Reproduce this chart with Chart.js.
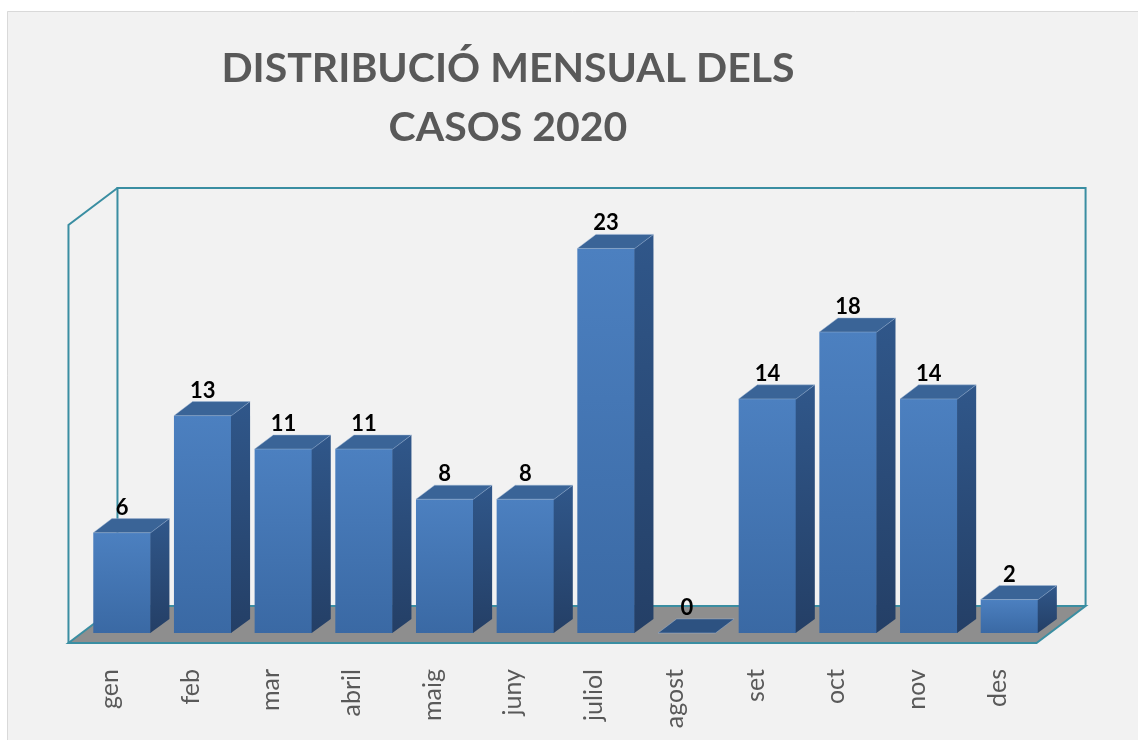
<!DOCTYPE html>
<html>
<head>
<meta charset="utf-8">
<script src="https://cdn.jsdelivr.net/npm/chart.js@4/dist/chart.umd.min.js"></script>
<style>
  html, body { margin: 0; padding: 0; background: #ffffff; }
  #wrap { width: 1138px; height: 740px; position: relative; }
  canvas { display: block; }
</style>
</head>
<body>
<div id="wrap"><canvas id="chart" width="1138" height="740"></canvas></div>
<script>
// ---- data ----
const titleLines = ['DISTRIBUCIÓ MENSUAL DELS', 'CASOS 2020'];
const months = ['gen', 'feb', 'mar', 'abril', 'maig', 'juny', 'juliol', 'agost', 'set', 'oct', 'nov', 'des'];
const cases = [6, 13, 11, 11, 8, 8, 23, 0, 14, 18, 14, 2];
const yMin = 0;
const yMax = 25;

// ---- styling / pseudo-3D geometry ----
const DEPTH = { dx: 49, dy: -37 };   // full floor depth vector
const FRONT_GAP = 0.27;              // bars' front plane sits this far back
const BAR_DEPTH = 0.38;              // bar depth as fraction of floor depth
const TEAL = '#3a8ea2';
const FLOOR = '#8e8e8e';
const TEXT_GREY = '#595959';

const pseudo3d = {
  id: 'pseudo3d',
  beforeDraw(chart) {
    const c = chart.ctx;
    c.save();
    c.fillStyle = '#ffffff';
    c.fillRect(0, 0, chart.width, chart.height);
    c.fillStyle = '#f2f2f2';
    c.fillRect(7, 11, chart.width, chart.height);
    c.strokeStyle = '#d9d9d9';
    c.lineWidth = 1;
    c.beginPath();
    c.moveTo(7.5, chart.height);
    c.lineTo(7.5, 11.5);
    c.lineTo(chart.width, 11.5);
    c.stroke();
    c.restore();
  },
  afterLayout(chart) {
    // place the title's box so that it is centred like the original
    if (chart.titleBlock) {
      chart.titleBlock.left = 0;
      chart.titleBlock.right = 1016;
    }
  },
  beforeDatasetsDraw(chart) {
    const c = chart.ctx;
    const a = chart.chartArea;
    const fx = -FRONT_GAP * DEPTH.dx, fy = -FRONT_GAP * DEPTH.dy;
    const bx = (1 - FRONT_GAP) * DEPTH.dx, by = (1 - FRONT_GAP) * DEPTH.dy;
    const L = a.left, R = a.right, T = a.top, B = a.bottom;
    c.save();
    c.lineWidth = 2;
    c.strokeStyle = TEAL;
    c.lineJoin = 'miter';
    // floor
    c.beginPath();
    c.moveTo(L + fx, B + fy);
    c.lineTo(R + fx, B + fy);
    c.lineTo(R + bx, B + by);
    c.lineTo(L + bx, B + by);
    c.closePath();
    c.fillStyle = FLOOR;
    c.fill();
    c.stroke();
    // back wall
    c.beginPath();
    c.moveTo(L + bx, B + by);
    c.lineTo(L + bx, T + by);
    c.lineTo(R + bx, T + by);
    c.lineTo(R + bx, B + by);
    c.stroke();
    // side wall
    c.beginPath();
    c.moveTo(L + fx, B + fy);
    c.lineTo(L + fx, T + fy);
    c.lineTo(L + bx, T + by);
    c.stroke();
    c.restore();
  },
  afterDatasetsDraw(chart) {
    const c = chart.ctx;
    const meta = chart.getDatasetMeta(0);
    const ox = BAR_DEPTH * DEPTH.dx, oy = BAR_DEPTH * DEPTH.dy;
    c.save();
    meta.data.forEach((el, i) => {
      const { x, y, base, width } = el.getProps(['x', 'y', 'base', 'width'], true);
      const l = x - width / 2, r = x + width / 2;
      // side face
      const sg = c.createLinearGradient(0, y + oy, 0, base);
      sg.addColorStop(0, '#30578a');
      sg.addColorStop(1, '#243f66');
      c.beginPath();
      c.moveTo(r - 0.5, y);
      c.lineTo(r + ox, y + oy);
      c.lineTo(r + ox, base + oy);
      c.lineTo(r - 0.5, base);
      c.closePath();
      c.fillStyle = sg;
      c.fill();
      // top face
      c.beginPath();
      c.moveTo(l, y);
      c.lineTo(r, y);
      c.lineTo(r + ox, y + oy);
      c.lineTo(l + ox, y + oy);
      c.closePath();
      c.fillStyle = base - y < 1 ? '#2d5281' : '#3a6497';
      c.fill();
      c.strokeStyle = 'rgba(160,185,215,0.45)';
      c.lineWidth = 1;
      c.stroke();
      // value label
      c.fillStyle = '#000000';
      c.font = 'bold 22px Lato, "Open Sans", sans-serif';
      c.textAlign = 'center';
      c.textBaseline = 'alphabetic';
      c.fillText(String(cases[i]), x, y + oy - 4);
    });
    c.restore();
  }
};

function frontGradient(ctx) {
  const chart = ctx.chart;
  if (!chart.chartArea) return '#4677b6';
  const a = chart.chartArea;
  const v = ctx.raw == null ? 0 : ctx.raw;
  const top = chart.scales.y.getPixelForValue(v);
  const g = chart.ctx.createLinearGradient(0, top, 0, a.bottom + 0.01);
  g.addColorStop(0, '#4c80c0');
  g.addColorStop(1, '#3a69a4');
  return g;
}

new Chart(document.getElementById('chart'), {
  type: 'bar',
  data: {
    labels: months,
    datasets: [{
      label: 'Casos',
      data: cases,
      backgroundColor: frontGradient,
      borderWidth: 0,
      categoryPercentage: 1.0,
      barPercentage: 0.713
    }]
  },
  options: {
    responsive: false,
    devicePixelRatio: 1,
    animation: false,
    layout: { padding: { left: 81.7, right: 88.2, top: 0, bottom: 0 } },
    plugins: {
      legend: { display: false },
      tooltip: { enabled: false },
      title: {
        display: true,
        text: titleLines,
        color: TEXT_GREY,
        align: 'center',
        font: { family: 'Lato, "Open Sans", sans-serif', size: 41, weight: 'bold', lineHeight: '59px' },
        padding: { top: 39.5, bottom: 57.5 }
      }
    },
    scales: {
      x: {
        grid: { display: false, drawTicks: false },
        border: { display: false },
        ticks: {
          color: TEXT_GREY,
          font: { family: 'Lato, "Open Sans", sans-serif', size: 25 },
          minRotation: 90,
          maxRotation: 90,
          autoSkip: false,
          labelOffset: -12,
          padding: 36
        },
        afterFit(scale) { scale.height = 107; }
      },
      y: {
        display: false,
        min: yMin,
        max: yMax
      }
    }
  },
  plugins: [pseudo3d]
});
</script>
</body>
</html>
